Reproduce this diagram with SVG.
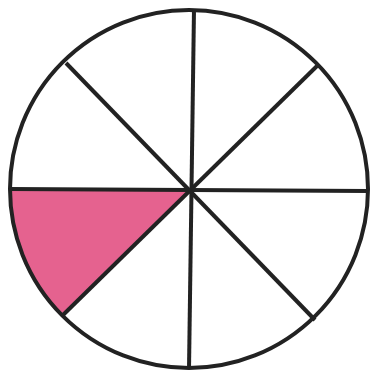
<svg xmlns="http://www.w3.org/2000/svg" width="370" height="379" viewBox="0 0 370 379">
<style>
.ln{stroke:#222;stroke-width:4;fill:none;stroke-linecap:butt}
</style>
<rect width="370" height="379" fill="#fff"/>
<g id="shaded">
<path d="M190,190 L10,189 A179,179 0 0 0 63,315 Z" fill="#e5628f"/>
</g>
<g id="connectors">
<line class="ln" x1="10" y1="189" x2="368" y2="191"/>
<line class="ln" x1="194" y1="9" x2="189" y2="369"/>
<line class="ln" x1="66" y1="63" x2="315" y2="320"/>
<line class="ln" x1="317" y1="66" x2="63" y2="315"/>
</g>
<g id="circle">
<circle class="ln" cx="189" cy="189" r="179"/>
</g>
</svg>
